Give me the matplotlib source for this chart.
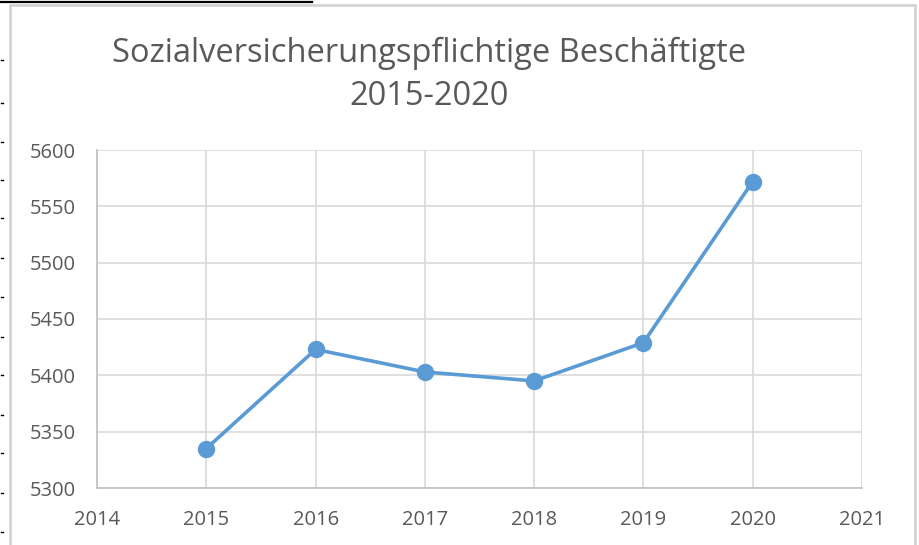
import matplotlib
matplotlib.use("Agg")
import matplotlib.pyplot as plt
from matplotlib.patches import Rectangle
from matplotlib.lines import Line2D

years = [2015, 2016, 2017, 2018, 2019, 2020]
values = [5335, 5423, 5403, 5395, 5429, 5572]
x_ticks = [2014, 2015, 2016, 2017, 2018, 2019, 2020, 2021]
y_ticks = [5300, 5350, 5400, 5450, 5500, 5550, 5600]
title = "Sozialversicherungspflichtige Beschäftigte\n2015-2020"

W, H = 920, 545
fig = plt.figure(figsize=(W / 100, H / 100), dpi=100)
plt.rcParams['font.family'] = ['Open Sans', 'DejaVu Sans']

# outer chart frame and screenshot artefacts
fig.patches.append(Rectangle((10 / W, -0.05), (915 - 10) / W, (H - 4.5) / H + 0.05,
                             transform=fig.transFigure, fill=False,
                             edgecolor='#d0d0d0', linewidth=1.8))
fig.lines.append(Line2D([0, 312 / W], [1 - 2 / H, 1 - 2 / H], transform=fig.transFigure,
                        color='black', linewidth=1.6))
for yy in [60, 103, 142, 180, 218, 258, 297, 337, 375, 415, 453, 493, 532]:
    fig.lines.append(Line2D([1 / W, 3 / W], [1 - yy / H, 1 - yy / H], transform=fig.transFigure,
                            color='black', linewidth=1.0))

ax = fig.add_axes([97 / W, (H - 488) / H, (862 - 97) / W, (488 - 150) / H])
ax.plot(years, values, color='#5b9bd5', linewidth=2.6, marker='o', markersize=11.5,
        zorder=3, clip_on=False)
ax.set_xlim(2014, 2021)
ax.set_ylim(5300, 5600)
ax.set_xticks(x_ticks)
ax.set_yticks(y_ticks)
ax.grid(True, color='#d9d9d9', linewidth=1.2)
for s in ['top', 'right']:
    ax.spines[s].set_visible(False)
for s in ['left', 'bottom']:
    ax.spines[s].set_color('#bfbfbf')
    ax.spines[s].set_linewidth(1.2)
ax.tick_params(length=0, labelsize=14.5, labelcolor='#595959')
ax.tick_params(axis='y', pad=15)
ax.tick_params(axis='x', pad=16)

fig.text(429 / W, 1 - 75 / H, title, ha='center', va='center', fontsize=23.5,
         color='#595959', linespacing=1.42)

fig.savefig('out.png', dpi=100)
